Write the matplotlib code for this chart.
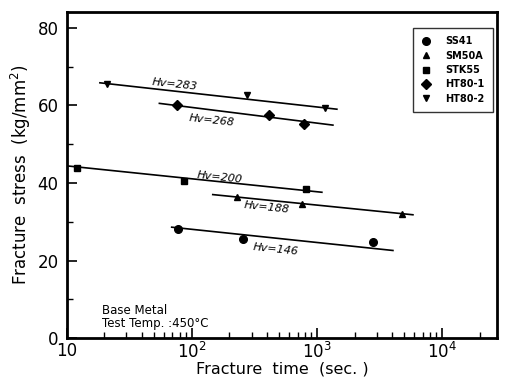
import matplotlib
matplotlib.use('Agg')
import matplotlib.pyplot as plt
from matplotlib.ticker import MultipleLocator, LogLocator, NullFormatter

# measured points (fracture time in sec, fracture stress in kg/mm2)
ss41_t = [77, 256, 2800]
ss41_s = [28.2, 25.6, 24.9]
sm50a_t = [229, 759, 4790]
sm50a_s = [36.5, 34.7, 31.9]
stk55_t = [12, 86, 817]
stk55_s = [43.8, 40.6, 38.5]
ht801_t = [76, 413, 787]
ht801_s = [60.2, 57.6, 55.3]
ht802_t = [21, 275, 1160]
ht802_s = [65.5, 62.6, 59.4]

# fitted lines (end points)
ss41_fit_t = [69, 4055]
ss41_fit_s = [28.6, 22.6]
sm50a_fit_t = [147, 5860]
sm50a_fit_s = [37.0, 31.8]
stk55_fit_t = [10, 1096]
stk55_fit_s = [44.4, 37.6]
ht801_fit_t = [55, 1343]
ht801_fit_s = [60.5, 54.9]
ht802_fit_t = [18.4, 1445]
ht802_fit_s = [65.8, 59.0]

hv_labels = ['Hv=146', 'Hv=188', 'Hv=200', 'Hv=268', 'Hv=283']
hv_pos_t = [470, 398, 168, 145, 73]
hv_pos_s = [22.8, 33.7, 41.5, 56.0, 65.5]

fig = plt.figure(figsize=(5.06, 3.80), dpi=100)
ax = fig.add_axes([0.132, 0.11, 0.85, 0.858])

ax.plot(ss41_t, ss41_s, 'o', color='black', ms=5.5, label='SS41')
ax.plot(sm50a_t, sm50a_s, '^', color='black', ms=5, label='SM50A')
ax.plot(stk55_t, stk55_s, 's', color='black', ms=5, label='STK55')
ax.plot(ht801_t, ht801_s, 'D', color='black', ms=5.5, label='HT80-1')
ax.plot(ht802_t, ht802_s, 'v', color='black', ms=5, label='HT80-2')

for t, s in [(ss41_fit_t, ss41_fit_s), (sm50a_fit_t, sm50a_fit_s),
             (stk55_fit_t, stk55_fit_s), (ht801_fit_t, ht801_fit_s),
             (ht802_fit_t, ht802_fit_s)]:
    ax.plot(t, s, color='black', lw=1.2)

for lab, t, s in zip(hv_labels, hv_pos_t, hv_pos_s):
    ax.text(t, s, lab, fontsize=8, style='italic', ha='center', va='center',
            rotation=-6)

ax.set_xscale('log')
ax.set_xlim(10, 27500)
ax.set_ylim(0, 84)
ax.yaxis.set_major_locator(MultipleLocator(20))
ax.yaxis.set_minor_locator(MultipleLocator(10))
ax.xaxis.set_minor_locator(LogLocator(base=10, subs=range(2, 10)))
ax.xaxis.set_minor_formatter(NullFormatter())
ax.set_xticks([10, 100, 1000, 10000])
ax.set_xticklabels(['10', r'$10^2$', r'$10^3$', r'$10^4$'])

ax.tick_params(which='both', direction='in', top=False, right=False)
ax.tick_params(which='major', length=7, width=1.2, labelsize=12)
ax.tick_params(which='minor', length=4, width=1)
ax.tick_params(axis='x', pad=3)
ax.tick_params(axis='y', pad=6)
for sp in ax.spines.values():
    sp.set_linewidth(2)

ax.set_xlabel('Fracture  time  (sec. )', fontsize=11.5, labelpad=-1)
ax.set_ylabel(r'Fracture  stress  (kg/mm$^2$)', fontsize=12, labelpad=3)

ax.text(0.081, 0.086, 'Base Metal', transform=ax.transAxes, fontsize=8.5,
        va='center')
ax.text(0.081, 0.046, 'Test Temp. :450°C', transform=ax.transAxes,
        fontsize=8.5, va='center')

leg = ax.legend(loc='upper right', bbox_to_anchor=(0.99, 0.95), fontsize=7,
                frameon=True, fancybox=False, edgecolor='black',
                handlelength=1.2, handletextpad=1.4, labelspacing=0.45,
                borderpad=0.8, borderaxespad=0)
leg.get_frame().set_linewidth(1)
for txt in leg.get_texts():
    txt.set_fontweight('bold')

fig.savefig('out.png', dpi=100)
